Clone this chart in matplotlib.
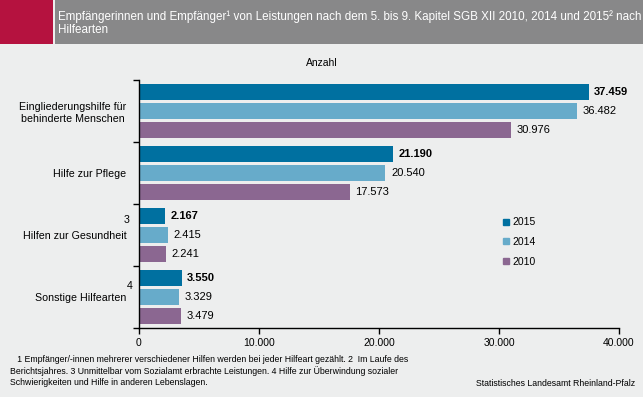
import matplotlib
matplotlib.use("Agg")
import matplotlib.pyplot as plt
import numpy as np
from matplotlib.patches import Rectangle
from matplotlib.lines import Line2D

plt.rcParams["font.family"] = ["Liberation Sans", "DejaVu Sans"]

# ---------------------------------------------------
# Data
# ---------------------------------------------------
categories = ["Eingliederungshilfe für\nbehinderte Menschen", "Hilfe zur Pflege",
              "Hilfen zur Gesundheit", "Sonstige Hilfearten"]
cat_notes = ["", "", "3", "4"]
years = ["2015", "2014", "2010"]
v2015 = [37459, 21190, 2167, 3550]
v2014 = [36482, 20540, 2415, 3329]
v2010 = [30976, 17573, 2241, 3479]
x_ticks = [0, 10000, 20000, 30000, 40000]
x_tick_labels = ["0", "10.000", "20.000", "30.000", "40.000"]

colors = ["#0070A0", "#67ABCA", "#8B6791"]
bg = "#EDEEEE"

title = ("Empfängerinnen und Empfänger¹ von Leistungen nach dem 5. bis 9. Kapitel SGB XII 2010, 2014 und 2015² nach\n"
         "Hilfearten")
footnote = ("   1 Empfänger/-innen mehrerer verschiedener Hilfen werden bei jeder Hilfeart gezählt. 2  Im Laufe des\n"
            "Berichtsjahres. 3 Unmittelbar vom Sozialamt erbrachte Leistungen. 4 Hilfe zur Überwindung sozialer\n"
            "Schwierigkeiten und Hilfe in anderen Lebenslagen.")
source = "Statistisches Landesamt Rheinland-Pfalz"


def fmt(v):
    return f"{v:,}".replace(",", ".")


# ---------------------------------------------------
# Figure
# ---------------------------------------------------
W, H = 643, 397
fig = plt.figure(figsize=(W / 100, H / 100), dpi=100, facecolor=bg)

# header band
fig.patches.append(Rectangle((0, 1 - 44 / H), 53 / W, 44 / H, transform=fig.transFigure,
                             facecolor="#B5123F", edgecolor="none"))
fig.patches.append(Rectangle((55 / W, 1 - 44 / H), 1 - 55 / W, 44 / H, transform=fig.transFigure,
                             facecolor="#888889", edgecolor="none"))
fig.text(58 / W, 1 - 23 / H, title, color="white", fontsize=8.35, va="center", ha="left",
         linespacing=1.15)

fig.text(322 / W, 1 - 63 / H, "Anzahl", fontsize=7.5, ha="center", va="center")

ax = fig.add_axes([139 / W, 1 - 328 / H, 480 / W, 248 / H])
ax.set_facecolor(bg)

pos = np.arange(len(categories))
step = 0.31
bh = 0.265
series = [v2015, v2014, v2010]
for i, (vals, c) in enumerate(zip(series, colors)):
    y = pos + (i - 1) * step
    ax.barh(y, vals, height=bh, color=c, edgecolor="none")
    for yy, v in zip(y, vals):
        ax.annotate(fmt(v), (v, yy), xytext=(4, 0), textcoords="offset points",
                    va="center", ha="left", fontsize=8,
                    fontweight="bold" if i == 0 else "normal")

ax.set_xlim(0, 40000)
ax.set_ylim(len(categories) - 0.5, -0.5)

ax.set_xticks(x_ticks)
ax.set_xticklabels(x_tick_labels, fontsize=7.5)
ax.tick_params(axis="x", direction="out", length=4, width=1, pad=3, color="black")

ax.set_yticks(pos)
ax.set_yticklabels(categories, fontsize=7.7, multialignment="center")
ax.tick_params(axis="y", which="major", length=0, pad=9)
ax.set_yticks(np.arange(-0.5, len(categories)), minor=True)
ax.tick_params(axis="y", which="minor", direction="out", length=4, width=1)

note_offsets = {"3": (-9, 11), "4": (-7, 8)}
for note, p in zip(cat_notes, pos):
    if note:
        ax.annotate(note, (0, p), xycoords=("axes fraction", "data"), xytext=note_offsets[note],
                    textcoords="offset points", fontsize=7.7, ha="center", va="center")

for s in ["top", "right"]:
    ax.spines[s].set_visible(False)
for s in ["left", "bottom"]:
    ax.spines[s].set_color("black")
    ax.spines[s].set_linewidth(1)

# legend
handles = [Line2D([], [], marker="s", ls="", color=c, markersize=5) for c in colors]
fig.legend(handles, years, loc="upper left", bbox_to_anchor=(498 / W, 1 - 212 / H),
           frameon=False, fontsize=7.5, handlelength=0.6, handletextpad=0.3,
           labelspacing=0.95, borderpad=0)

fig.text(10 / W, 1 - 371 / H, footnote, fontsize=6.35, ha="left", va="center", linespacing=1.25)
fig.text(635 / W, 1 - 383 / H, source, fontsize=6.35, ha="right", va="center")

fig.savefig("out.png", dpi=100, facecolor=bg)
